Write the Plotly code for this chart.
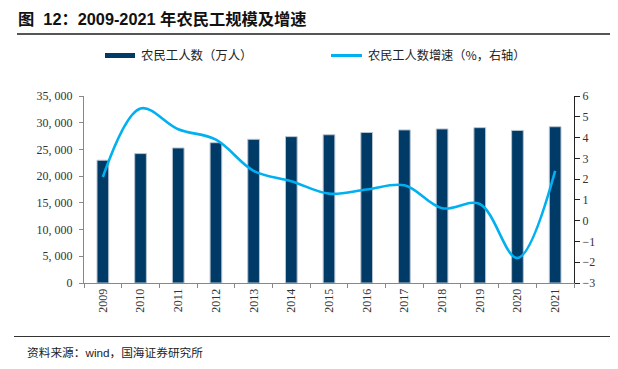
import plotly.graph_objects as go

years = ["2009", "2010", "2011", "2012", "2013", "2014", "2015", "2016", "2017", "2018", "2019", "2020", "2021"]
workers = [22978, 24223, 25278, 26261, 26894, 27395, 27747, 28171, 28652, 28836, 29077, 28560, 29251]
growth = [2.1, 5.4, 4.4, 3.9, 2.4, 1.9, 1.3, 1.5, 1.7, 0.6, 0.8, -1.8, 2.4]

left_ticks = [0, 5000, 10000, 15000, 20000, 25000, 30000, 35000]
left_text = ["0", "5, 000", "10, 000", "15, 000", "20, 000", "25, 000", "30, 000", "35, 000"]
right_ticks = [-3, -2, -1, 0, 1, 2, 3, 4, 5, 6]
right_text = ["\u22123", "\u22122", "\u22121", "0", "1", "2", "3", "4", "5", "6"]

serif = "Liberation Serif, Times New Roman, serif"
cjk = "Noto Sans CJK SC, sans-serif"

# the page body adds an 8px offset; target screen coordinates below
OFF = 8
L, R, T, B = 84, 574, 96, 283
W = R - L
H = B - T


def px(x):
    return (x - L) / W


def py(y):
    return (B - y) / H


fig = go.Figure()
fig.add_trace(go.Bar(
    x=years, y=workers, name="农民工人数（万人）",
    marker=dict(color="#003A66", line=dict(color="#B8C4D0", width=1)),
    yaxis="y",
))
fig.add_trace(go.Scatter(
    x=years, y=growth, name="农民工人数增速（%，右轴）",
    mode="lines", line=dict(color="#00B0F0", width=2.6, shape="spline", smoothing=1.0),
    yaxis="y2",
))

fig.update_layout(
    width=618, height=369,
    margin=dict(l=L - OFF, r=618 - R + OFF, t=T - OFF, b=369 - B + OFF, autoexpand=False),
    paper_bgcolor="white", plot_bgcolor="white",
    bargap=0.69,
    showlegend=False,
    xaxis=dict(
        type="category", showline=True, linecolor="#888888", linewidth=1,
        ticks="outside", tickson="boundaries", ticklen=4, tickcolor="#888888",
        tickangle=-90, tickfont=dict(family=serif, size=12, color="#333333"),
        showgrid=False, zeroline=False, automargin=False,
    ),
    yaxis=dict(
        range=[0, 35000], tickvals=left_ticks, ticktext=left_text,
        showline=True, linecolor="#888888", linewidth=1,
        ticks="outside", ticklen=8, tickcolor="white",
        tickfont=dict(family=serif, size=12, color="#333333"),
        showgrid=False, zeroline=False, automargin=False,
    ),
    yaxis2=dict(
        range=[-3, 6], tickvals=right_ticks, ticktext=right_text,
        overlaying="y", side="right",
        showline=True, linecolor="#222222", linewidth=1,
        ticks="outside", ticklen=5, tickcolor="#222222",
        tickfont=dict(family=serif, size=12, color="#333333"),
        showgrid=False, zeroline=False, automargin=False,
    ),
)


def box(x0, x1, y, color, h):
    # a filled rectangle drawn as an annotation background
    fig.add_annotation(xref="paper", yref="paper", xanchor="left", yanchor="middle",
                       x=px(x0), y=py(y), text=" ", font=dict(size=1),
                       width=x1 - x0, height=h, bgcolor=color,
                       borderpad=0, borderwidth=0, showarrow=False)


# short left-axis tick marks (the white long ticks push labels away from the axis)
for v in left_ticks:
    fig.add_annotation(xref="paper", yref="y", xanchor="right", yanchor="middle",
                       x=0, y=v, text=" ", font=dict(size=1), width=5, height=1,
                       bgcolor="#888888", borderpad=0, borderwidth=0, showarrow=False)

# Title and decoration
fig.add_annotation(xref="paper", yref="paper", xanchor="left", yanchor="middle",
                   x=px(16), y=py(19),
                   text="<b>图  12：2009-2021 年农民工规模及增速</b>", showarrow=False,
                   font=dict(family="Liberation Sans, Noto Sans CJK SC, sans-serif", size=16.3, color="#111111"))
box(17, 610, 33.5, "#555555", 1.5)
box(14, 618, 336, "#333333", 1.2)
fig.add_annotation(xref="paper", yref="paper", xanchor="left", yanchor="middle",
                   x=px(25), y=py(352),
                   text="资料来源：wind，国海证券研究所", showarrow=False,
                   font=dict(family="Liberation Sans, Noto Sans CJK SC, sans-serif", size=11.7, color="#222222"))

# Legend (manual)
box(105, 135, 55, "#003A66", 5)
fig.add_annotation(xref="paper", yref="paper", xanchor="left", yanchor="middle",
                   x=px(139), y=py(55), text="农民工人数（万人）", showarrow=False,
                   font=dict(family=cjk, size=12.4, color="#222222"))
box(331, 362, 55, "#00B0F0", 2.5)
fig.add_annotation(xref="paper", yref="paper", xanchor="left", yanchor="middle",
                   x=px(366), y=py(55), text="农民工人数增速（%，右轴）", showarrow=False,
                   font=dict(family=cjk, size=12.2, color="#222222"))

fig.write_html("out.html")
